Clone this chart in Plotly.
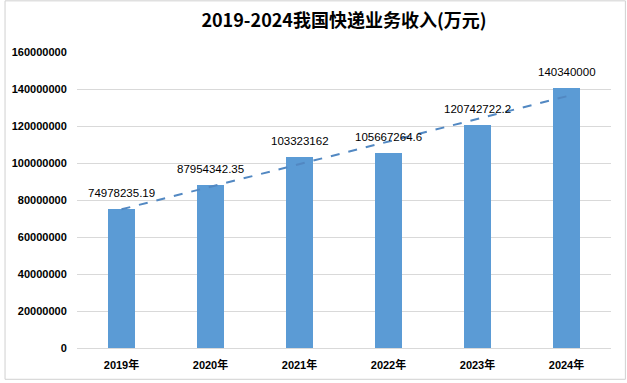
import numpy as np
import plotly.graph_objects as go

years = ["2019年", "2020年", "2021年", "2022年", "2023年", "2024年"]
revenue = [74978235.19, 87954342.35, 103323162, 105667264.6, 120742722.2, 140340000]
y_ticks = [0, 20000000, 40000000, 60000000, 80000000, 100000000, 120000000, 140000000, 160000000]
title_text = "2019-2024我国快递业务收入(万元)"

W, H = 627, 383
L, R, T, B = 73, 16, 52, 33
pw, ph = W - L - R, H - T - B

idx = np.arange(len(years))
slope, intercept = np.polyfit(idx + 1, revenue, 1)
trend_x = [idx[0], idx[-1]]
trend_y = [slope * (i + 1) + intercept for i in trend_x]

def fmt(v):
    return ("%.2f" % v).rstrip("0").rstrip(".")

fig = go.Figure()
fig.add_trace(go.Bar(
    x=idx, y=revenue, width=0.31,
    marker=dict(color="#5B9BD5", line=dict(width=0)),
    hoverinfo="skip",
))
fig.add_trace(go.Scatter(
    x=trend_x, y=trend_y, mode="lines",
    line=dict(color="#5288C2", width=2, dash="dash"),
    hoverinfo="skip",
))

annotations = []
for i, v in zip(idx, revenue):
    annotations.append(dict(
        x=i, y=v, xref="x", yref="y", text=fmt(v), showarrow=False,
        yanchor="bottom", yshift=8,
        font=dict(family="Liberation Sans, Arial, sans-serif", size=11.5, color="#000000"),
    ))

fig.update_layout(
    width=W, height=H,
    margin=dict(l=L, r=R, t=T, b=B),
    paper_bgcolor="white", plot_bgcolor="white",
    showlegend=False,
    bargap=0,
    title=dict(
        text="<b>" + title_text + "</b>",
        x=0.5, xanchor="center", xref="paper",
        y=1 - 21 / H, yref="container", yanchor="middle",
        font=dict(family="Noto Sans CJK SC, Liberation Sans, sans-serif", size=18, color="#000000"),
    ),
    xaxis=dict(
        range=[-0.5, len(years) - 0.5],
        tickmode="array", tickvals=list(idx), ticktext=years,
        showgrid=False, zeroline=False,
        showline=True, linecolor="#D9D9D9", linewidth=1,
        ticks="outside", ticklen=7, tickcolor="rgba(0,0,0,0)",
        tickfont=dict(family="Liberation Sans, Noto Sans CJK SC, sans-serif", size=11, color="#000000", weight="bold"),
        fixedrange=True,
    ),
    yaxis=dict(
        range=[0, 160000000],
        tickmode="array", tickvals=y_ticks, tickformat="d",
        showgrid=True, gridcolor="#D9D9D9", gridwidth=1,
        zeroline=False, showline=False,
        ticks="outside", ticklen=7, tickcolor="rgba(0,0,0,0)",
        tickfont=dict(family="Liberation Sans, Arial, sans-serif", size=11, color="#000000", weight="bold"),
        fixedrange=True,
    ),
    annotations=annotations,
    shapes=[dict(
        type="rect", xref="paper", yref="paper",
        x0=-(L - 0.5) / pw, x1=1 + (R - 1.5) / pw,
        y0=-(B - 1.5) / ph, y1=1 + (T - 0.5) / ph,
        line=dict(color="#D0D0D0", width=1), fillcolor="rgba(0,0,0,0)",
        layer="below",
    )],
)

fig.write_html(
    "out.html",
    config={"displayModeBar": False, "staticPlot": True},
    post_script="document.body.style.margin='0';document.body.style.overflow='hidden';",
)
